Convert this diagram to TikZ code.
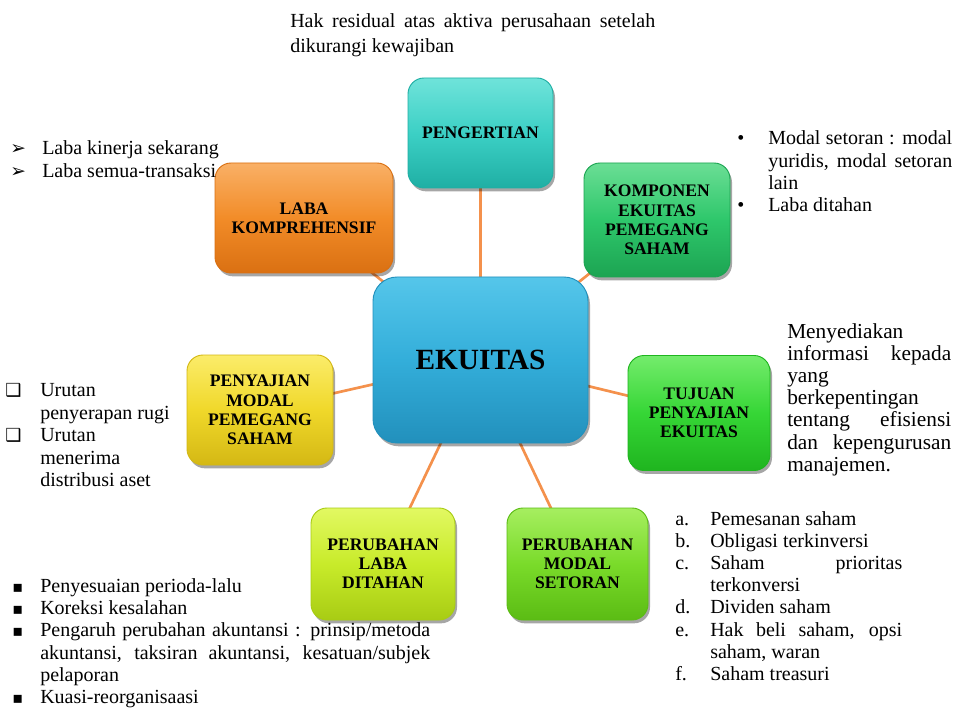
\documentclass[tikz,border=0pt]{standalone}
\usepackage{fontspec}
\setmainfont{Liberation Serif}
\newfontfamily\symfont{DejaVu Sans}
\usetikzlibrary{shadows,backgrounds}
\newlength{\pxu}\setlength{\pxu}{0.75pt}
\newcommand{\bul}[2]{\makebox[#1\pxu][l]{#2}}
\newcommand{\arrowb}{{\symfont\fontsize{14}{14}\selectfont ➢}}
\newcommand{\boxb}{{\symfont\fontsize{13.5}{13.5}\selectfont ❑}}
\newcommand{\sqb}{{\symfont\fontsize{12}{12}\selectfont ▪}}
\definecolor{conncol}{HTML}{F4914C}
\definecolor{tealL}{HTML}{6FE3DA}\definecolor{tealM}{HTML}{3CD0C5}\definecolor{tealD}{HTML}{1FAFA4}
\definecolor{oraL}{HTML}{F9B066}\definecolor{oraM}{HTML}{F28C28}\definecolor{oraD}{HTML}{DA7012}
\definecolor{grnL}{HTML}{6BDE95}\definecolor{grnM}{HTML}{2EC76B}\definecolor{grnD}{HTML}{1CA452}
\definecolor{bluL}{HTML}{55C6EA}\definecolor{bluM}{HTML}{33AEDA}\definecolor{bluD}{HTML}{2290BC}
\definecolor{brgL}{HTML}{74EC6C}\definecolor{brgM}{HTML}{36D636}\definecolor{brgD}{HTML}{1FB51F}
\definecolor{limL}{HTML}{A6EE60}\definecolor{limM}{HTML}{7ADB2A}\definecolor{limD}{HTML}{5BBC14}
\definecolor{ygL}{HTML}{E2F862}\definecolor{ygM}{HTML}{C8EB2A}\definecolor{ygD}{HTML}{A8CC14}
\definecolor{yelL}{HTML}{FBEC6A}\definecolor{yelM}{HTML}{F0D82A}\definecolor{yelD}{HTML}{D4B814}
\tikzset{
  boxstyle/.style n args={3}{rounded corners=12pt, draw=#3, line width=0.7pt,
    top color=#1, bottom color=#3, middle color=#2,
    drop shadow={shadow xshift=1.5pt, shadow yshift=-2.5pt, opacity=0.35, fill=black},
    align=center, inner sep=2pt, text=black,
    font=\fontsize{13.2}{14.4}\selectfont\bfseries},
  connector/.style={draw=conncol, line width=2pt},
  txt/.style={anchor=base west, inner sep=0pt, font=\fontsize{15}{16.65}\selectfont},
}
\begin{document}
\begin{tikzpicture}[x=0.75pt,y=-0.75pt]
\useasboundingbox (0,0) rectangle (960,720);
\begin{scope}[on background layer]
\fill[white] (0,0) rectangle (960,720);
\end{scope}
% boxes
\node[boxstyle={bluL}{bluM}{bluD}, minimum width=215\pxu, minimum height=166\pxu,
      rounded corners=18pt, font=\fontsize{22}{24}\selectfont\bfseries] (ek) at (480.5,360) {EKUITAS};
\node[boxstyle={tealL}{tealM}{tealD}, minimum width=145\pxu, minimum height=110\pxu] (peng) at (480.5,133) {PENGERTIAN};
\node[boxstyle={oraL}{oraM}{oraD}, minimum width=178\pxu, minimum height=110\pxu] (laba) at (304,218) {LABA\\KOMPREHENSIF};
\node[boxstyle={grnL}{grnM}{grnD}, minimum width=146\pxu, minimum height=114\pxu] (komp) at (657,220) {KOMPONEN\\EKUITAS\\PEMEGANG\\SAHAM};
\node[boxstyle={brgL}{brgM}{brgD}, minimum width=142\pxu, minimum height=115\pxu] (tuj) at (699,413) {TUJUAN\\PENYAJIAN\\EKUITAS};
\node[boxstyle={yelL}{yelM}{yelD}, minimum width=146\pxu, minimum height=110\pxu] (peny) at (260,410) {PENYAJIAN\\MODAL\\PEMEGANG\\SAHAM};
\node[boxstyle={ygL}{ygM}{ygD}, minimum width=144\pxu, minimum height=112\pxu] (plaba) at (383,564) {PERUBAHAN\\LABA\\DITAHAN};
\node[boxstyle={limL}{limM}{limD}, minimum width=141\pxu, minimum height=112\pxu] (pmod) at (577.5,564) {PERUBAHAN\\MODAL\\SETORAN};
% connectors
\begin{scope}[on background layer]
\draw[connector] (ek.center) -- (peng.center);
\draw[connector] (ek.center) -- (laba.center);
\draw[connector] (ek.center) -- (komp.center);
\draw[connector] (ek.center) -- (tuj.center);
\draw[connector] (ek.center) -- (peny.center);
\draw[connector] (ek.center) -- (plaba.center);
\draw[connector] (ek.center) -- (pmod.center);
\end{scope}
% texts
\node[txt] (thak) at (290,28) {\parbox[t]{365\pxu}{\fontsize{15}{18.4}\selectfont
  \makebox[365\pxu][s]{Hak residual atas aktiva perusahaan setelah}\\
  dikurangi kewajiban}};
\node[txt] (tlaba) at (10,154.5) {\parbox[t]{240\pxu}{\fontsize{15}{16.9}\selectfont
  \bul{32}{\arrowb}Laba kinerja sekarang\\
  \bul{32}{\arrowb}Laba semua-transaksi}};
\node[txt] (tkomp) at (737,145) {\parbox[t]{220\pxu}{\fontsize{15}{16.7}\selectfont
  \bul{31}{\textbullet}\makebox[184\pxu][s]{Modal setoran : modal}\\
  \hspace*{31\pxu}\makebox[184\pxu][s]{yuridis, modal setoran}\\
  \hspace*{31\pxu}lain\\
  \bul{31}{\textbullet}Laba ditahan}};
\node[txt] (ttuj) at (787,338) {\parbox[t]{164\pxu}{\fontsize{16}{16.65}\selectfont
  Menyediakan\\
  \makebox[164\pxu][s]{informasi kepada}\\
  yang\\
  berkepentingan\\
  \makebox[164\pxu][s]{tentang efisiensi}\\
  \makebox[164\pxu][s]{dan kepengurusan}\\
  manajemen.}};
\node[txt] (tpeny) at (5,396.5) {\parbox[t]{200\pxu}{\fontsize{15}{16.9}\selectfont
  \bul{35}{\boxb}Urutan\\
  \hspace*{35\pxu}penyerapan rugi\\
  \bul{35}{\boxb}Urutan\\
  \hspace*{35\pxu}menerima\\
  \hspace*{35\pxu}distribusi aset}};
\node[txt] (tplaba) at (12,592.5) {\parbox[t]{440\pxu}{\fontsize{15}{16.65}\selectfont
  \bul{28}{\sqb}Penyesuaian perioda-lalu\\
  \bul{28}{\sqb}Koreksi kesalahan\\
  \bul{28}{\sqb}\makebox[390\pxu][s]{Pengaruh perubahan akuntansi : prinsip/metoda}\\
  \hspace*{28\pxu}\makebox[390\pxu][s]{akuntansi, taksiran akuntansi, kesatuan/subjek}\\
  \hspace*{28\pxu}pelaporan\\
  \bul{28}{\sqb}Kuasi-reorganisaasi}};
\node[txt] (tpmod) at (675,525) {\parbox[t]{240\pxu}{\fontsize{15}{16.65}\selectfont
  \bul{35}{a.}Pemesanan saham\\
  \bul{35}{b.}Obligasi terkinversi\\
  \bul{35}{c.}\makebox[192\pxu][s]{Saham prioritas}\\
  \hspace*{35\pxu}terkonversi\\
  \bul{35}{d.}Dividen saham\\
  \bul{35}{e.}\makebox[192\pxu][s]{Hak beli saham, opsi}\\
  \hspace*{35\pxu}saham, waran\\
  \bul{35}{f.}Saham treasuri}};
\end{tikzpicture}
\end{document}
